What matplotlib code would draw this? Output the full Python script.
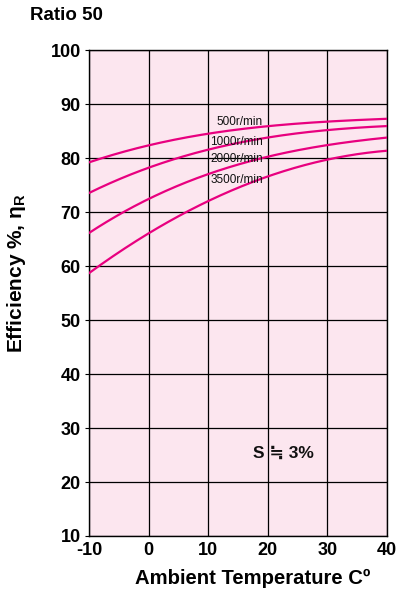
import numpy as np
import matplotlib
matplotlib.use('Agg')
import matplotlib.pyplot as plt

plt.rcParams['font.family'] = ['Liberation Sans', 'DejaVu Sans']
plt.rcParams['axes.unicode_minus'] = False

## data
temps = [-10, 0, 10, 20, 30, 40]
eff_500 = [79.2, 82.5, 84.4, 86.0, 86.8, 87.3]
eff_1000 = [73.6, 78.1, 81.7, 83.9, 85.1, 86.0]
eff_2000 = [66.1, 72.6, 76.9, 80.3, 82.5, 83.8]
eff_3500 = [58.7, 66.1, 72.0, 76.7, 79.7, 81.4]
speed_labels = ['500r/min', '1000r/min', '2000r/min', '3500r/min']
label_y = [86.8, 83.1, 79.8, 76.0]
x_ticks = [-10, 0, 10, 20, 30, 40]
y_ticks = [10, 20, 30, 40, 50, 60, 70, 80, 90, 100]

line_col = '#e8007f'

fig = plt.figure(figsize=(3.99, 5.96), dpi=100)
ax = fig.add_axes([0.223, 0.1007, 0.747, 0.8149])
ax.set_facecolor('#fce6ef')

# smooth the curves through the read points
xs = np.linspace(-10, 40, 200)
for ys in [eff_500, eff_1000, eff_2000, eff_3500]:
    coef = np.polyfit(temps, ys, 3)
    ax.plot(xs, np.polyval(coef, xs), color=line_col, lw=1.6, zorder=3)

for lab, yy in zip(speed_labels, label_y):
    ax.text(19.2, yy, lab, ha='right', va='center', fontsize=8.5,
            color='#111111', zorder=4)

ax.text(22.6, 25.4, 'S \u2252 3%', ha='center', va='center', fontsize=12.5,
        fontweight='bold', color='#111111')

ax.set_xlim(-10, 40)
ax.set_ylim(10, 100)
ax.set_xticks(x_ticks)
ax.set_yticks(y_ticks)
ax.grid(True, color='black', lw=0.9)
ax.set_axisbelow(True)
for sp in ax.spines.values():
    sp.set_linewidth(1.0)
ax.tick_params(axis='x', length=0, pad=4, labelsize=13)
ax.tick_params(axis='y', length=3, pad=3, labelsize=13)
for t in ax.get_xticklabels() + ax.get_yticklabels():
    t.set_fontweight('bold')

ax.set_xlabel('Ambient Temperature C\u00ba', fontsize=14.6, fontweight='bold')
ax.xaxis.set_label_coords(0.549, -0.068)
ax.set_ylabel('Efficiency %, $\\mathregular{\\eta_R}$', fontsize=15, fontweight='bold')
ax.yaxis.set_label_coords(-0.205, 0.541)

fig.text(30 / 399, 1 - 16 / 596, 'Ratio 50', ha='left', va='center',
         fontsize=13.5, fontweight='bold')

fig.savefig('out.png', dpi=100)
